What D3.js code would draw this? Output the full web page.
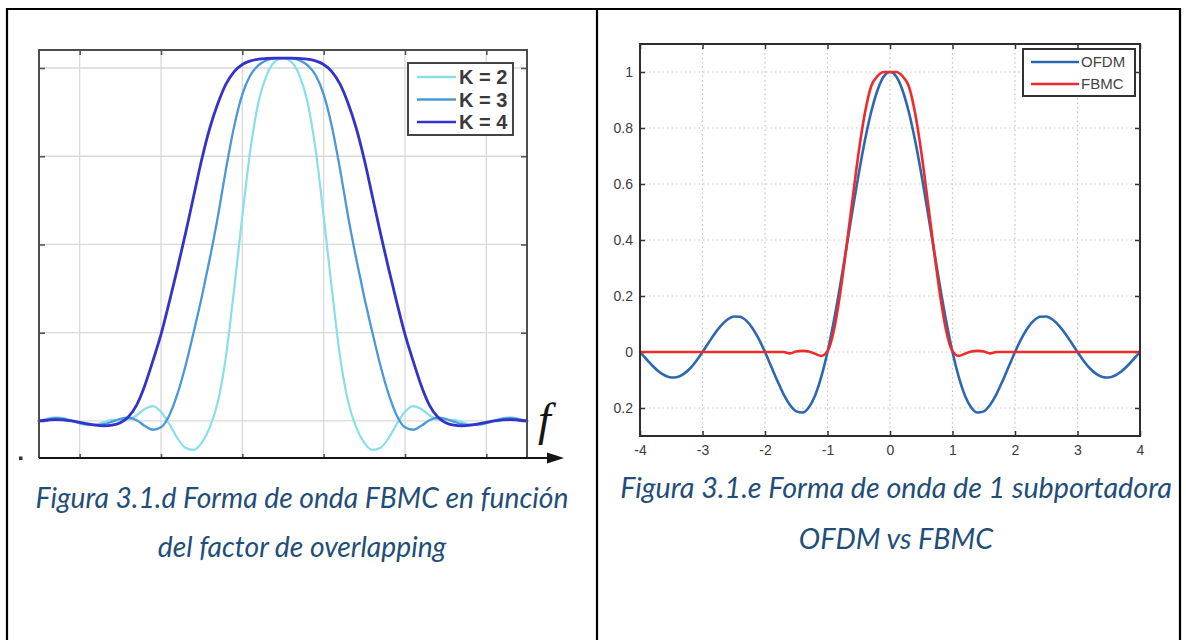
<!DOCTYPE html>
<html>
<head>
<meta charset="utf-8">
<script src="https://cdn.jsdelivr.net/npm/d3@7"></script>
<style>
  body { margin: 0; background: #fff; }
  svg { display: block; }
</style>
</head>
<body>
<svg id="fig" width="1186" height="640"></svg>
<script>
// ---------- Left panel: FBMC prototype response vs overlapping factor K ----------
const overlapFreq = [-3.0,-2.9,-2.8,-2.7,-2.6,-2.5,-2.4,-2.3,-2.2,-2.1,-2.0,-1.9,-1.8,-1.7,-1.6,-1.5,-1.4,-1.3,-1.2,-1.1,
  -1.0,-0.9,-0.8,-0.7,-0.6,-0.5,-0.4,-0.3,-0.2,-0.1,0.0,0.1,0.2,0.3,0.4,0.5,0.6,0.7,0.8,0.9,
  1.0,1.1,1.2,1.3,1.4,1.5,1.6,1.7,1.8,1.9,2.0,2.1,2.2,2.3,2.4,2.5,2.6,2.7,2.8,2.9,3.0];
const overlapK2 = [0.000,0.006,0.010,0.008,0.001,-0.007,-0.012,-0.010,-0.003,0.003,
  0.002,0.004,0.016,0.034,0.042,0.026,-0.008,-0.048,-0.076,-0.082,
  -0.062,-0.018,0.055,0.185,0.375,0.580,0.770,0.905,0.980,1.018,
  1.028,
  1.018,0.980,0.905,0.770,0.580,0.375,0.185,0.055,-0.018,-0.062,
  -0.082,-0.076,-0.048,-0.008,0.026,0.042,0.034,0.016,0.004,0.002,
  0.003,-0.003,-0.010,-0.012,-0.007,0.001,0.008,0.010,0.006,0.000];
const overlapK3 = [0.000,0.004,0.008,0.006,0.000,-0.006,-0.010,-0.012,-0.009,-0.002,
  0.006,0.009,0.002,-0.014,-0.025,-0.018,0.015,0.075,0.155,0.250,
  0.350,0.460,0.580,0.715,0.835,0.925,0.980,1.008,1.022,1.027,
  1.028,
  1.027,1.022,1.008,0.980,0.925,0.835,0.715,0.580,0.460,0.350,
  0.250,0.155,0.075,0.015,-0.018,-0.025,-0.014,0.002,0.009,0.006,
  -0.002,-0.009,-0.012,-0.010,-0.006,0.000,0.006,0.008,0.004,0.000];
const overlapK4 = [0.000,0.002,0.004,0.003,0.000,-0.004,-0.008,-0.012,-0.014,-0.012,
  -0.005,0.012,0.045,0.100,0.170,0.245,0.335,0.430,0.530,0.635,
  0.740,0.830,0.900,0.955,0.990,1.010,1.020,1.025,1.027,1.028,
  1.028,
  1.028,1.027,1.025,1.020,1.010,0.990,0.955,0.900,0.830,0.740,
  0.635,0.530,0.430,0.335,0.245,0.170,0.100,0.045,0.012,-0.005,
  -0.012,-0.014,-0.012,-0.008,-0.004,0.000,0.003,0.004,0.002,0.000];
const overlapLabels = ["K = 2", "K = 3", "K = 4"];
const overlapGridX = [-2.5, -1.5, -0.5, 0.5, 1.5, 2.5];
const overlapGridY = [0, 0.25, 0.5, 0.75, 1];

// ---------- Right panel: single subcarrier, OFDM vs FBMC ----------
const subFreq = [-4.0,-3.9,-3.8,-3.7,-3.6,-3.5,-3.4,-3.3,-3.2,-3.1,-3.0,-2.9,-2.8,-2.7,-2.6,-2.5,-2.4,-2.3,-2.2,-2.1,
  -2.0,-1.9,-1.8,-1.7,-1.6,-1.5,-1.4,-1.3,-1.2,-1.1,-1.0,-0.9,-0.8,-0.7,-0.6,-0.5,-0.4,-0.3,-0.2,-0.1,
  0.0,
  0.1,0.2,0.3,0.4,0.5,0.6,0.7,0.8,0.9,1.0,1.1,1.2,1.3,1.4,1.5,1.6,1.7,1.8,1.9,2.0,
  2.1,2.2,2.3,2.4,2.5,2.6,2.7,2.8,2.9,3.0,3.1,3.2,3.3,3.4,3.5,3.6,3.7,3.8,3.9,4.0];
const ofdmPulse = [0.000,-0.025,-0.049,-0.070,-0.084,-0.091,-0.089,-0.078,-0.059,-0.032,
  0.000,0.034,0.067,0.095,0.116,0.127,0.126,0.112,0.085,0.047,
  0.000,-0.052,-0.104,-0.152,-0.189,-0.212,-0.216,-0.198,-0.156,-0.089,
  0.000,0.109,0.234,0.368,0.505,0.637,0.757,0.858,0.935,0.984,
  1.000,
  0.984,0.935,0.858,0.757,0.637,0.505,0.368,0.234,0.109,0.000,
  -0.089,-0.156,-0.198,-0.216,-0.212,-0.189,-0.152,-0.104,-0.052,0.000,
  0.047,0.085,0.112,0.126,0.127,0.116,0.095,0.067,0.034,0.000,
  -0.032,-0.059,-0.078,-0.089,-0.091,-0.084,-0.070,-0.049,-0.025,0.000];
const fbmcPulse = [0,0,0,0,0,0,0,0,0,0,
  0,0,0,0,0,0,0,0,0,0,
  0,0,0,0.000,-0.005,0.002,0.004,0.002,-0.006,-0.014,
  0.003,0.075,0.205,0.370,0.545,0.715,0.855,0.950,0.985,1.000,
  1.000,
  1.000,0.985,0.950,0.855,0.715,0.545,0.370,0.205,0.075,0.003,
  -0.014,-0.006,0.002,0.004,0.002,-0.005,0.000,0,0,0,
  0,0,0,0,0,0,0,0,0,0,
  0,0,0,0,0,0,0,0,0,0];
const subSeries = ["OFDM", "FBMC"];
const subTicksX = [-4, -3, -2, -1, 0, 1, 2, 3, 4];
const subTickLabelsX = ["-4", "-3", "-2", "-1", "0", "1", "2", "3", "4"];
const subTicksY = [-0.2, 0, 0.2, 0.4, 0.6, 0.8, 1];
const subTickLabelsY = ["0.2", "0", "0.2", "0.4", "0.6", "0.8", "1"];
const subGridX = [-3, -2, -1, 0, 1, 2, 3];

const captionLeft = ["Figura 3.1.d Forma de onda FBMC en función", "del factor de overlapping"];
const captionRight = ["Figura 3.1.e Forma de onda de 1 subportadora", "OFDM vs FBMC"];

// ---------- drawing ----------
const svg = d3.select("#fig");
svg.append("rect").attr("width", 1186).attr("height", 640).attr("fill", "#fff");

// table cell borders
const border = svg.append("g").attr("stroke", "#000").attr("stroke-width", 2.2);
border.append("line").attr("x1", 6).attr("x2", 1181).attr("y1", 9).attr("y2", 9);
[7, 597, 1180].forEach(x => border.append("line")
  .attr("x1", x).attr("x2", x).attr("y1", 8).attr("y2", 640));

// ----- left chart -----
const L = { left: 39, right: 527, top: 50, bottom: 458 };
const xL = d3.scaleLinear().domain([-3, 3]).range([L.left, L.right]);
const yL = d3.scaleLinear().domain([-0.105, 1.051]).range([L.bottom, L.top]);
const gL = svg.append("g");

gL.selectAll("line.gridx").data(overlapGridX).join("line").attr("class", "gridx")
  .attr("x1", d => xL(d)).attr("x2", d => xL(d)).attr("y1", L.top).attr("y2", L.bottom)
  .attr("stroke", "#d9d9d9").attr("stroke-width", 1.3);
gL.selectAll("line.gridy").data(overlapGridY).join("line").attr("class", "gridy")
  .attr("x1", L.left).attr("x2", L.right).attr("y1", d => yL(d)).attr("y2", d => yL(d))
  .attr("stroke", "#d9d9d9").attr("stroke-width", 1.3);

// inward ticks on all sides
const tickStyle = sel => sel.call(g => g.select(".domain").remove())
  .call(g => g.selectAll(".tick line").attr("stroke", "#555").attr("stroke-width", 1.6));
gL.append("g").attr("transform", `translate(${L.left},0)`)
  .call(d3.axisLeft(yL).tickValues(overlapGridY).tickFormat("").tickSize(-6)).call(tickStyle);
gL.append("g").attr("transform", `translate(${L.right},0)`)
  .call(d3.axisRight(yL).tickValues(overlapGridY).tickFormat("").tickSize(-6)).call(tickStyle);
gL.append("g").attr("transform", `translate(0,${L.top})`)
  .call(d3.axisTop(xL).tickValues(overlapGridX).tickFormat("").tickSize(-5)).call(tickStyle);
gL.append("g").attr("transform", `translate(0,${L.bottom})`)
  .call(d3.axisBottom(xL).tickValues(overlapGridX).tickFormat("").tickSize(-4)).call(tickStyle);

const overlapSeries = [
  { label: overlapLabels[0], values: overlapK2, color: "#86dfea", width: 2.2 },
  { label: overlapLabels[1], values: overlapK3, color: "#4a98d8", width: 2.3 },
  { label: overlapLabels[2], values: overlapK4, color: "#3333c9", width: 2.8 }
];
const lineL = d3.line().x((d, i) => xL(overlapFreq[i])).y(d => yL(d)).curve(d3.curveMonotoneX);
gL.selectAll("path.curve").data(overlapSeries).join("path").attr("class", "curve")
  .attr("d", d => lineL(d.values)).attr("fill", "none")
  .attr("stroke", d => d.color).attr("stroke-width", d => d.width)
  .attr("stroke-linejoin", "round").attr("stroke-linecap", "round");

// frame: top / left / right, then the frequency axis with its arrow
gL.append("path")
  .attr("d", `M${L.left},${L.bottom} V${L.top} H${L.right} V${L.bottom}`)
  .attr("fill", "none").attr("stroke", "#4d4d4d").attr("stroke-width", 2);
gL.append("line").attr("x1", L.left).attr("x2", 552).attr("y1", L.bottom).attr("y2", L.bottom)
  .attr("stroke", "#151515").attr("stroke-width", 2.2);
gL.append("path").attr("d", `M547,${L.bottom - 5.5} L564,${L.bottom} L547,${L.bottom + 5.5} Z`).attr("fill", "#151515");
gL.append("text").attr("x", 538).attr("y", 435)
  .attr("font-family", "'Liberation Serif', 'DejaVu Serif', serif").attr("font-style", "italic")
  .attr("font-size", 46).attr("fill", "#151515").text("f");
gL.append("rect").attr("x", 19).attr("y", 456.5).attr("width", 3.5).attr("height", 3.5).attr("fill", "#333");

// legend
const legL = gL.append("g");
legL.append("rect").attr("x", 408).attr("y", 63).attr("width", 105).attr("height", 72)
  .attr("fill", "#fff").attr("stroke", "#444").attr("stroke-width", 2);
const legRowsL = legL.selectAll("g.row").data(overlapSeries).join("g").attr("class", "row")
  .attr("transform", (d, i) => `translate(0,${77 + i * 22.5})`);
legRowsL.append("line").attr("x1", 417).attr("x2", 456).attr("y1", 0).attr("y2", 0)
  .attr("stroke", d => d.color).attr("stroke-width", 2.6);
legRowsL.append("text").attr("x", 459).attr("y", 7)
  .attr("font-family", "'Liberation Sans', Arial, sans-serif").attr("font-weight", "bold")
  .attr("font-size", 20).attr("fill", "#3a3a3a").text(d => d.label);

// ----- right chart -----
const R = { left: 640, right: 1140, top: 44, bottom: 436 };
const xR = d3.scaleLinear().domain([-4, 4]).range([R.left, R.right]);
const yR = d3.scaleLinear().domain([-0.3, 1.1]).range([R.bottom, R.top]);
const gR = svg.append("g");

gR.selectAll("line.gridx").data(subGridX).join("line").attr("class", "gridx")
  .attr("x1", d => xR(d)).attr("x2", d => xR(d)).attr("y1", R.top).attr("y2", R.bottom)
  .attr("stroke", "#c4c4c4").attr("stroke-width", 1.2).attr("stroke-dasharray", "1.5,3");
gR.selectAll("line.gridy").data(subTicksY).join("line").attr("class", "gridy")
  .attr("x1", R.left).attr("x2", R.right).attr("y1", d => yR(d)).attr("y2", d => yR(d))
  .attr("stroke", "#c4c4c4").attr("stroke-width", 1.2).attr("stroke-dasharray", "1.5,3");

const labelStyle = sel => sel.call(g => g.select(".domain").remove())
  .call(g => g.selectAll(".tick line").attr("stroke", "#333").attr("stroke-width", 1.5))
  .call(g => g.selectAll(".tick text").attr("fill", "#3c3c3c")
    .attr("font-family", "'Liberation Sans', Arial, sans-serif").attr("font-size", 14));
gR.append("g").attr("transform", `translate(${R.left},0)`)
  .call(d3.axisLeft(yR).tickValues(subTicksY).tickFormat((d, i) => subTickLabelsY[i]).tickSize(-5).tickPadding(7))
  .call(labelStyle);
gR.append("g").attr("transform", `translate(0,${R.bottom})`)
  .call(d3.axisBottom(xR).tickValues(subTicksX).tickFormat((d, i) => subTickLabelsX[i]).tickSize(-5).tickPadding(9))
  .call(labelStyle);
gR.append("g").attr("transform", `translate(${R.right},0)`)
  .call(d3.axisRight(yR).tickValues(subTicksY).tickFormat("").tickSize(-5)).call(labelStyle);
gR.append("g").attr("transform", `translate(0,${R.top})`)
  .call(d3.axisTop(xR).tickValues(subTicksX).tickFormat("").tickSize(-5)).call(labelStyle);

const subData = [
  { label: subSeries[0], values: ofdmPulse, color: "#2c67b1" },
  { label: subSeries[1], values: fbmcPulse, color: "#ee2b2b" }
];
const lineR = d3.line().x((d, i) => xR(subFreq[i])).y(d => yR(d)).curve(d3.curveMonotoneX);
gR.selectAll("path.curve").data(subData).join("path").attr("class", "curve")
  .attr("d", d => lineR(d.values)).attr("fill", "none")
  .attr("stroke", d => d.color).attr("stroke-width", 2.6).attr("stroke-linejoin", "round");

gR.append("rect").attr("x", R.left).attr("y", R.top)
  .attr("width", R.right - R.left).attr("height", R.bottom - R.top)
  .attr("fill", "none").attr("stroke", "#2e2e2e").attr("stroke-width", 2);

// legend
const legR = gR.append("g");
legR.append("rect").attr("x", 1023).attr("y", 49).attr("width", 112).attr("height", 47)
  .attr("fill", "#fff").attr("stroke", "#333").attr("stroke-width", 2);
const legRowsR = legR.selectAll("g.row").data(subData).join("g").attr("class", "row")
  .attr("transform", (d, i) => `translate(0,${62 + i * 22})`);
legRowsR.append("line").attr("x1", 1031).attr("x2", 1079).attr("y1", 0).attr("y2", 0)
  .attr("stroke", d => d.color).attr("stroke-width", 2.6);
legRowsR.append("text").attr("x", 1081).attr("y", 5)
  .attr("font-family", "'Liberation Sans', Arial, sans-serif")
  .attr("font-size", 15).attr("fill", "#444").text(d => d.label);

// ----- captions -----
function caption(lines, cx, baselines, lineWidth) {
  const g = svg.append("g")
    .attr("font-family", "Lato, 'Open Sans', sans-serif").attr("font-style", "italic")
    .attr("fill", "#1f4e79").attr("text-anchor", "middle");
  const texts = g.selectAll("text").data(lines).join("text")
    .attr("x", cx).attr("y", (d, i) => baselines[i]).attr("font-size", 24).text(d => d);
  const w = texts.node().getComputedTextLength();
  texts.attr("font-size", 24 * lineWidth / w);
}
caption(captionLeft, 302, [508, 557], 533);
caption(captionRight, 896, [498, 549], 552);
</script>
</body>
</html>
